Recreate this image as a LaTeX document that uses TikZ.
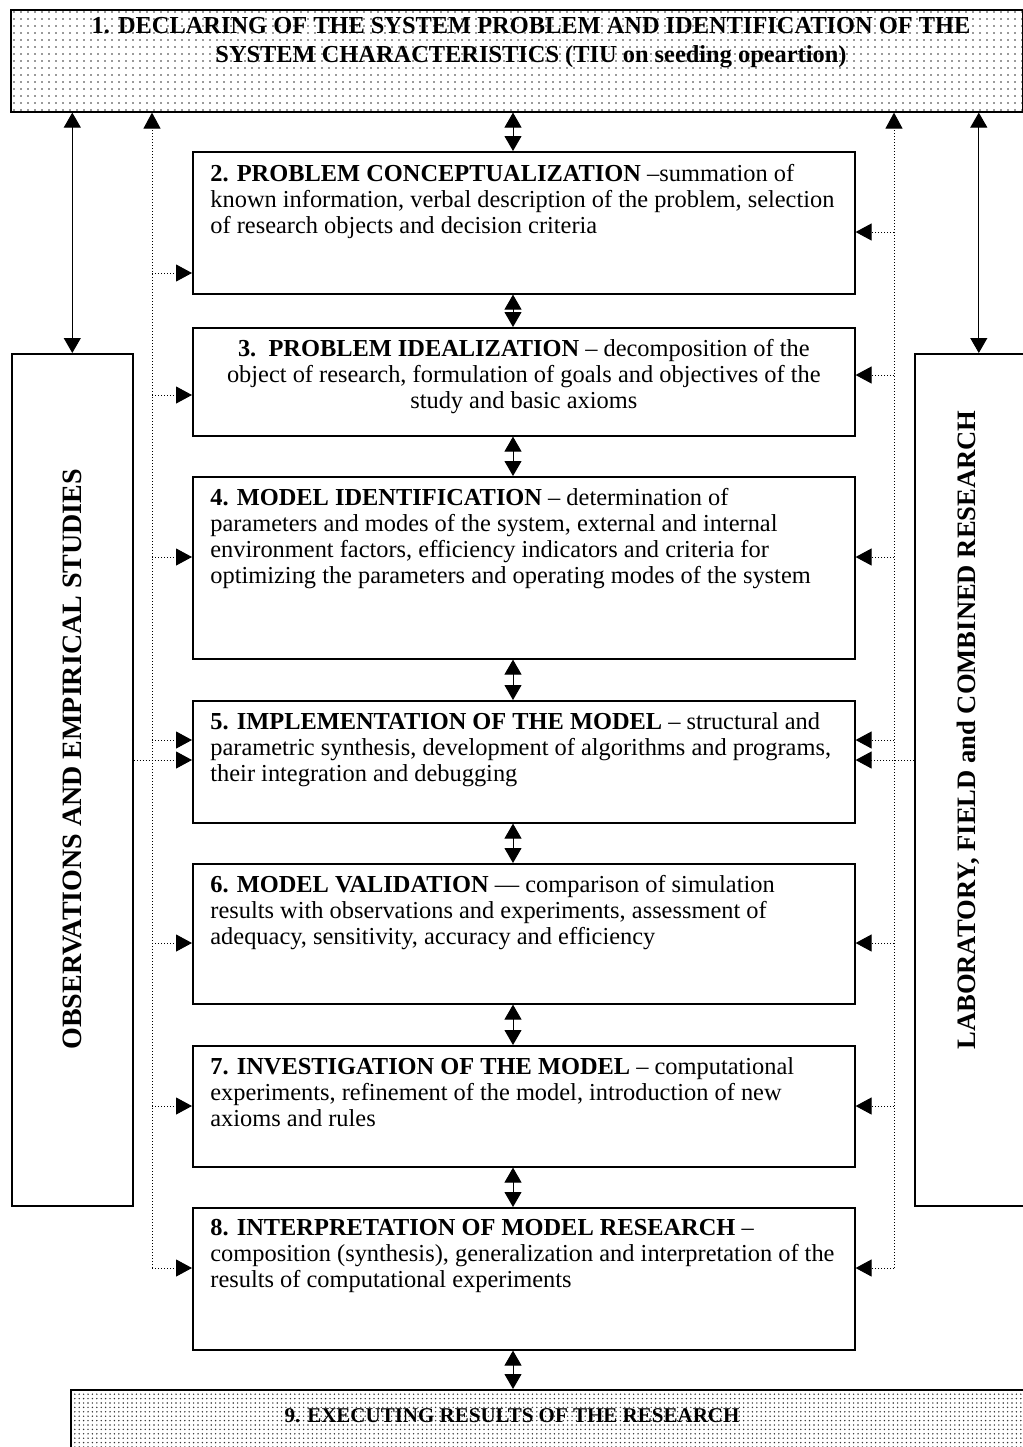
\documentclass[tikz,border=0pt]{standalone}
\usepackage{fontspec}
\setmainfont{Liberation Serif}
\usetikzlibrary{arrows.meta,patterns.meta}
\colorlet{box edge}{black}
\colorlet{dot fill}{black!80}
\tikzset{stage/.style={draw=box edge, line width=0.8pt, anchor=north west, inner sep=0pt},
	dotted stage/.style 2 args={stage, pattern={Dots[distance=#1, radius=#2]}, pattern color=dot fill},
	txt/.style={inner sep=0pt, align=left, font=\fontsize{12.2}{13}\selectfont},
	headtxt/.style={inner sep=0pt, align=center, font=\fontsize{12.2}{14.5}\selectfont\bfseries},
	sidetxt/.style={rotate=90, anchor=west, inner sep=0pt, font=\fontsize{#1}{14}\selectfont\bfseries},
	dbl/.style={line width=0.5pt, {Triangle[length=7.5pt,width=8.5pt]}-{Triangle[length=7.5pt,width=8.5pt]}},
	feed/.style={line width=0.5pt, densely dotted, -{Triangle[length=8pt,width=8.5pt]}}}

\begin{document}
\begin{tikzpicture}[x=0.5pt,y=-0.5pt]
		\useasboundingbox (0,0) rectangle (1023,1447);
		% outer stages
		\node[dotted stage={3.5pt}{0.45pt}, minimum width=506pt, minimum height=51pt] (b1) at (10,9) {};
		\node[headtxt] (t1) at (531,43) {1. DECLARING OF THE SYSTEM PROBLEM AND IDENTIFICATION OF THE\\SYSTEM CHARACTERISTICS (TIU on seeding opeartion)};
		\node[dotted stage={2.2pt}{0.4pt}, minimum width=490pt, minimum height=40pt] (b9) at (70,1389) {};
		\node[headtxt, font=\fontsize{10.5}{12}\selectfont\bfseries] (t9) at (512,1416) {9. EXECUTING RESULTS OF THE RESEARCH};
		% side boxes
		\node[stage, minimum width=60.5pt, minimum height=426pt] (lbox) at (11,353) {};
		\node[stage, minimum width=64pt, minimum height=426pt] (rbox) at (914,353) {};
		\node[sidetxt=14] (obs) at (72,1050) {OBSERVATIONS AND EMPIRICAL STUDIES};
		\node[sidetxt=13.3] (lab) at (968,1050) {LABORATORY, FIELD and COMBINED RESEARCH};
		% middle stages
		\node[stage, minimum width=331pt, minimum height=71pt] (b2) at (192,151) {};
		\node[stage, minimum width=331pt, minimum height=54pt] (b3) at (192,327) {};
		\node[stage, minimum width=331pt, minimum height=91pt] (b4) at (192,476) {};
		\node[stage, minimum width=331pt, minimum height=61pt] (b5) at (192,700) {};
		\node[stage, minimum width=331pt, minimum height=70pt] (b6) at (192,863) {};
		\node[stage, minimum width=331pt, minimum height=60.5pt] (b7) at (192,1045) {};
		\node[stage, minimum width=331pt, minimum height=71pt] (b8) at (192,1207) {};
		\node[txt, anchor=north west] (t2) at ([shift={(18,13)}]b2.north west) {\textbf{2. PROBLEM CONCEPTUALIZATION} –summation of\\known information, verbal description of the problem, selection\\of research objects and decision criteria};
		\node[txt, align=center, anchor=north] (t3) at ([shift={(0,12)}]b3.north) {\textbf{3.\ \ PROBLEM IDEALIZATION} – decomposition of the\\object of research, formulation of goals and objectives of the\\study and basic axioms};
		\node[txt, anchor=north west] (t4) at ([shift={(18,12)}]b4.north west) {\textbf{4. MODEL IDENTIFICATION} – determination of\\parameters and modes of the system, external and internal\\environment factors, efficiency indicators and criteria for\\optimizing the parameters and operating modes of the system};
		\node[txt, anchor=north west] (t5) at ([shift={(18,12)}]b5.north west) {\textbf{5. IMPLEMENTATION OF THE MODEL} – structural and\\parametric synthesis, development of algorithms and programs,\\their integration and debugging};
		\node[txt, anchor=north west] (t6) at ([shift={(18,12)}]b6.north west) {\textbf{6. MODEL VALIDATION} — comparison of simulation\\results with observations and experiments, assessment of\\adequacy, sensitivity, accuracy and efficiency};
		\node[txt, anchor=north west] (t7) at ([shift={(18,12)}]b7.north west) {\textbf{7. INVESTIGATION OF THE MODEL} – computational\\experiments, refinement of the model, introduction of new\\axioms and rules};
		\node[txt, anchor=north west] (t8) at ([shift={(18,12)}]b8.north west) {\textbf{8. INTERPRETATION OF MODEL RESEARCH} –\\composition (synthesis), generalization and interpretation of the\\results of computational experiments};
		% links between stages
		\coordinate (mid) at (513,0);
		\draw[dbl] (b1.south -| mid) -- (b2.north -| mid);
		\foreach \a/\b in {b2/b3,b3/b4,b4/b5,b5/b6,b6/b7,b7/b8,b8/b9}
			\draw[dbl] (\a.south -| mid) -- (\b.north -| mid);
		\draw[dbl] (b1.south -| lbox.north) -- (lbox.north);
		\draw[dbl] (b1.south -| rbox.north) -- (rbox.north);
		% feedback lines
		\coordinate (ld) at (152,1268);
		\coordinate (rd) at (894,1268);
		\draw[feed] (ld) -- (ld |- b1.south);
		\draw[feed] (rd) -- (rd |- b1.south);
		\foreach \b/\y in {b2/273,b3/395,b4/557,b5/740,b6/943,b7/1106,b8/1268}
			\draw[feed] (ld |- 0,\y) -- (\b.west |- 0,\y);
		\foreach \b/\y in {b2/232,b3/375,b4/557,b5/740,b6/943,b7/1106,b8/1268}
			\draw[feed] (rd |- 0,\y) -- (\b.east |- 0,\y);
		\draw[feed] (lbox.east |- 0,760) -- (b5.west |- 0,760);
		\draw[feed] (rbox.west |- 0,760) -- (b5.east |- 0,760);
\end{tikzpicture}
\end{document}
